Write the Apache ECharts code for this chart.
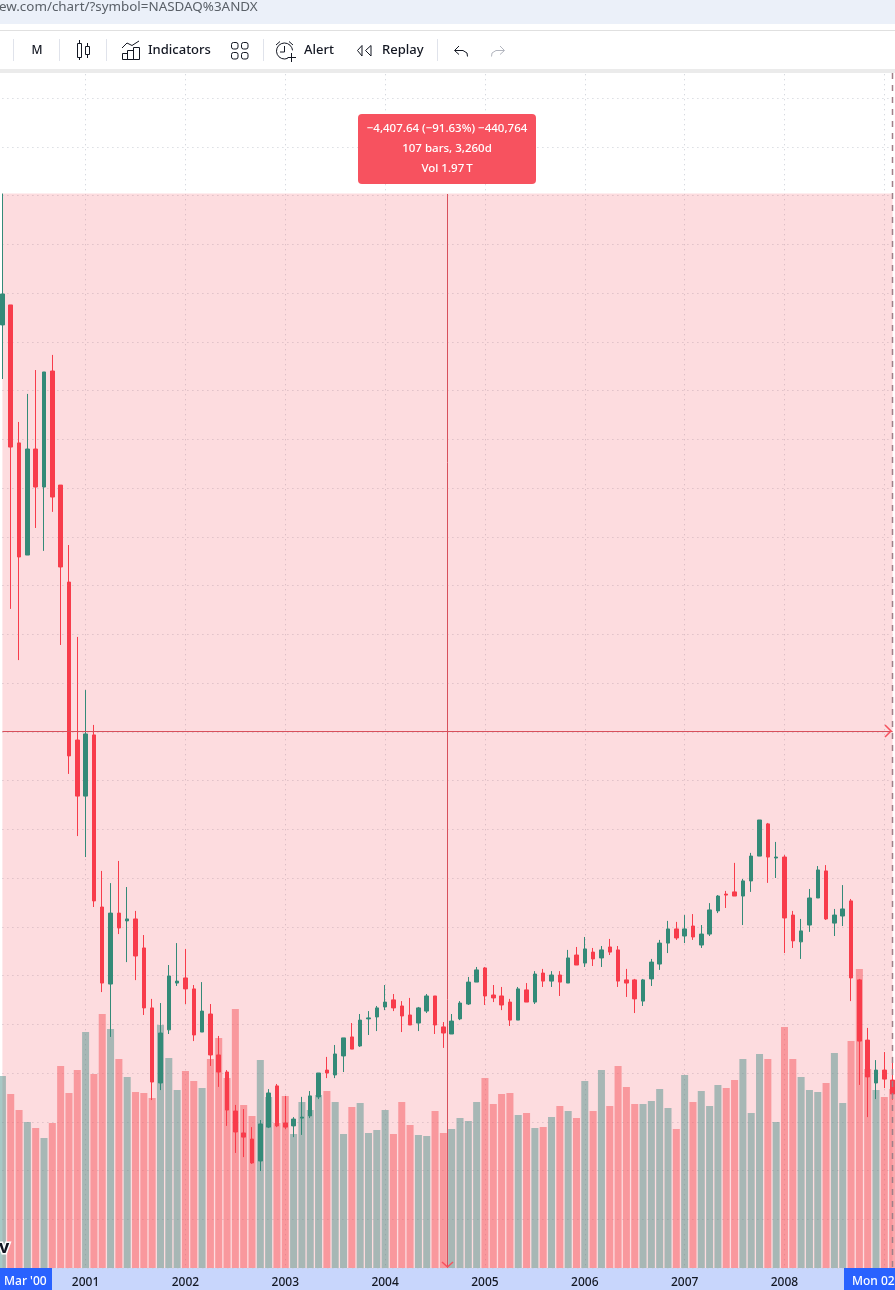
<!DOCTYPE html>
<html><head><meta charset="utf-8"><style>html,body{margin:0;padding:0;background:#fff}#c{width:895px;height:1290px}</style>
<script src="https://cdn.jsdelivr.net/npm/echarts@6/dist/echarts.min.js"></script></head><body><div id="c"></div>
<script>
// NDX monthly, Mar 2000 onward (prices; volume in billions)
var opens=[4269,4351,3785,3325,3760,3604,4080,3612,3214,2566,
2336,2587,1881,1565,1856,1824,1832,1713,1467,1159,
1377,1569,1590,1545,1368,1442,1274,1204,1044,954,
929,839,978,1147,995,983,1015,1024,1102,1212,
1192,1270,1348,1311,1422,1430,1471,1500,1475,1438,
1405,1454,1516,1389,1360,1422,1483,1573,1631,1520,
1516,1491,1417,1541,1491,1610,1577,1602,1569,1684,
1651,1696,1672,1717,1705,1582,1582,1495,1586,1647,
1733,1791,1762,1803,1725,1770,1865,1934,1943,1926,
1988,2090,2222,2082,2086,1848,1738,1807,1918,2029,
1815,1844,1906,1582,1335,1159,1212,1171];
var closes=[4396,3768,3317,3760,3604,4076,3563,3276,2501,2336,
2591,1906,1569,1856,1795,1832,1680,1467,1163,1364,
1598,1577,1545,1356,1454,1274,1204,1048,958,937,
831,991,1118,983,978,1011,1019,1106,1200,1200,
1278,1344,1298,1417,1426,1467,1491,1467,1434,1397,
1467,1516,1397,1364,1413,1487,1573,1623,1516,1508,
1479,1417,1545,1491,1606,1577,1602,1573,1672,1643,
1709,1668,1705,1696,1577,1569,1504,1582,1655,1733,
1791,1754,1791,1758,1770,1869,1926,1930,1926,1988,
2090,2238,2086,2086,1836,1742,1783,1918,2033,1832,
1848,1873,1590,1331,1184,1212,1175,1114];
var lows=[4047,3104,2894,3325,3436,3342,3502,2956,2427,2172,
2086,1881,1532,1348,1770,1655,1581,1438,1089,1130,
1360,1557,1483,1331,1368,1229,1143,983,872,855,
827,798,974,978,970,937,946,1015,1093,1179,
1179,1204,1298,1307,1356,1372,1458,1454,1368,1397,
1372,1446,1360,1303,1360,1417,1479,1573,1479,1491,
1458,1393,1417,1491,1483,1553,1553,1516,1569,1643,
1635,1639,1635,1684,1553,1512,1446,1475,1557,1623,
1692,1746,1733,1746,1713,1762,1856,1877,1926,1807,
1943,2090,1980,2000,1692,1713,1668,1779,1918,1828,
1762,1803,1495,1151,1019,1093,1138,1090];
var highs=[4808,4351,3871,3986,4084,4076,4146,3612,3366,2989,
2771,2628,2029,1979,2070,1963,1865,1766,1504,1487,
1643,1733,1709,1561,1573,1483,1352,1212,1069,1052,
978,1007,1134,1155,1106,1019,1102,1126,1200,1266,
1315,1344,1405,1442,1454,1475,1561,1524,1495,1508,
1471,1524,1516,1409,1442,1495,1594,1635,1635,1561,
1553,1504,1553,1569,1618,1627,1618,1618,1705,1717,
1758,1713,1721,1750,1721,1627,1586,1586,1668,1746,
1824,1820,1848,1852,1807,1897,1930,1947,2062,1996,
2103,2238,2226,2148,2094,1865,1832,1955,2049,2053,
1873,1971,1914,1586,1385,1253,1286,1266];
var volumes=[19.2,17.4,15.8,14.6,14.0,13.0,14.5,20.2,17.5,19.8,
23.6,19.4,25.4,23.9,20.9,19.1,17.6,17.5,17.0,24.3,
21.0,17.8,19.7,18.7,18.0,20.9,23.0,19.0,25.9,16.3,
15.2,20.8,17.1,14.5,17.2,13.4,16.6,15.8,17.3,17.7,
16.6,13.4,16.1,16.5,13.5,13.8,15.8,13.4,16.6,14.3,
13.3,13.2,15.7,13.5,13.9,15.0,14.7,16.6,19.0,16.4,
17.4,17.5,15.3,15.5,14.0,14.1,15.1,16.2,15.7,15.0,
18.7,15.7,19.8,16.2,20.2,18.1,16.4,16.4,16.7,17.9,
16.0,13.9,19.3,16.6,17.7,16.2,18.3,18.0,18.8,20.9,
15.5,21.4,20.9,14.6,24.1,20.9,19.1,17.8,17.6,18.5,
21.5,16.5,22.7,29.9,19.9,17.8,17.1,17.9];
var yearLabels=['2001','2002','2003','2004','2005','2006','2007','2008','2009'];
var rangeTop=4808, rangeBottom=400, rangeMid=2604;
var tipLines=['\u22124,407.64 (\u221291.63%) \u2212440,764','107 bars, 3,260d','Vol 1.97\u202fT'];
var categories=[];
for(var k=0;k<opens.length;k++){categories.push(k%12===10?yearLabels[(k-10)/12]:'m'+k);}

var UP='#348a78',DOWN='#f83c4b',VUP='rgba(82,146,139,0.5)',VDOWN='rgba(246,84,91,0.5)';
var FONT='"Noto Sans",sans-serif',INK='#131722',GRAY='#b2b5be';
var candles=opens.map(function(o,i){return [o,closes[i],lows[i],highs[i]];});
var volData=volumes.map(function(v,i){return {value:v,itemStyle:{color:closes[i]>=opens[i]?VUP:VDOWN}};});

function sLine(points,color,w,closed){return {type:closed?'polygon':'polyline',z:101,shape:{points:points},style:{fill:null,stroke:color||INK,lineWidth:w||1}};}
function rect(x,y,w,h,fill,z,r){return {type:'rect',z:z||100,shape:{x:x,y:y,width:w,height:h,r:r||0},style:{fill:fill}};}
function box(x,y,w,h,r,stroke){return {type:'rect',z:101,shape:{x:x+.5,y:y+.5,width:w,height:h,r:r||0},style:{fill:null,stroke:stroke||INK,lineWidth:1}};}
function txt(s,x,y,size,color,weight,align){return {type:'text',z:104,x:x,y:y,style:{text:s,fontFamily:FONT,fontSize:size,fontWeight:weight||'normal',fill:color||INK,align:align||'left',verticalAlign:'middle'}};}

var g=[
 rect(0,0,895,24,'#ebf0f9'),rect(0,24,895,45,'#ffffff'),rect(0,30,895,1,'#e0e0e0'),rect(0,69,895,4,'#ebebeb'),
 txt('ew.com/chart/?symbol=NASDAQ%3ANDX',-1,7,13.4,'#5a6068'),
 rect(13,39,1,22,'#e0e3eb',101),rect(59,39,1,22,'#e0e3eb',101),rect(106,39,1,22,'#e0e3eb',101),rect(263,39,1,22,'#e0e3eb',101),rect(437,39,1,22,'#e0e3eb',101),
 txt('M',37,50.5,12,INK,'500','center'),
 box(77,43,4,14),sLine([[79.5,40],[79.5,43]]),sLine([[79.5,57],[79.5,60]]),
 box(85,46,4,8),sLine([[87.5,43],[87.5,46]]),sLine([[87.5,54],[87.5,58]]),
 sLine([[122,48],[127,43],[132,45.5],[139,41]]),
 box(122,53,5,6),box(127,50,6,9),box(133,47,6,12),
 txt('Indicators',148,50,13,INK,'500'),
 box(231,42,6.5,6.5,2),box(241,42,6.5,6.5,2),box(231,52,6.5,6.5,2),box(241,52,6.5,6.5,2),
 {type:'arc',z:101,shape:{cx:284.5,cy:51,r:8,startAngle:1.15,endAngle:6.2,clockwise:true},style:{fill:null,stroke:INK,lineWidth:1}},
 sLine([[276,45],[280,41.5]]),sLine([[289,41.5],[293,45]]),sLine([[284.5,46],[284.5,52],[280,52]]),
 sLine([[287.5,57.5],[296,57.5]]),sLine([[291.5,53],[291.5,62]]),
 txt('Alert',304,50,13,INK,'500'),
 sLine([[362,45.5],[357.5,50.5],[362,56]],INK,1,true),sLine([[371,45.5],[365.5,50.5],[371,56]],INK,1,true),
 txt('Replay',382,50,13,INK,'500'),
 sLine([[459,46],[454.5,50.5],[459,54.5]]),sLine([[455,50.5],[463,50.5],[467,53],[467.5,56.5]]),
 sLine([[500,46],[504.5,50.5],[500,54.5]],GRAY),sLine([[504,50.5],[496,50.5],[492,53],[491.5,56.5]],GRAY),
 rect(358,114,178,70,'#f7525f',103,4),
 txt(tipLines[0],447,128.5,11.5,'#ffffff','500','center'),
 txt(tipLines[1],447,148.5,11.5,'#ffffff','500','center'),
 txt(tipLines[2],447,168.5,11.5,'#ffffff','500','center'),
 {type:'line',z:60,shape:{x1:447.5,y1:194,x2:447.5,y2:1268},style:{stroke:'#d8505c',lineWidth:1}},
 sLine([[885,725],[891,731],[885,737]],'#f7525f',1.5),
 sLine([[442,1262],[447.5,1267],[453,1262]],'#f7525f',1.5),
 {type:'line',z:60,shape:{x1:892.5,y1:73,x2:892.5,y2:1268},style:{stroke:'#a07f88',lineWidth:1.5,lineDash:[6,6]}},
 {type:'text',z:70,x:-1,y:1248,style:{text:'v',fontFamily:FONT,fontSize:18,fontWeight:'bold',fill:'#131722',stroke:'#fff',lineWidth:3,verticalAlign:'middle'}},
 rect(0,1268,895,22,'#c8d6fc',-1),
 rect(0,1268,52,22,'#2962ff',5),
 txt("Mar '00",4,1282,12,'#ffffff','500'),
 rect(844,1268,51,22,'#2962ff',5),
 txt('Mon 02 F',852,1282,12,'#ffffff','500')
];
var chart=echarts.init(document.getElementById('c'),null,{renderer:'canvas'});
chart.setOption({
 animation:false,backgroundColor:'#fff',
 grid:{left:2.4,width:890.24,top:49.25,height:1218.75,containLabel:false,outerBoundsMode:'none'},
 tooltip:{show:false},legend:{show:false},
 xAxis:{type:'category',data:categories,boundaryGap:false,min:0,max:categories.length-1,containShape:false,
  axisLine:{show:false},axisTick:{show:false},
  axisLabel:{show:true,interval:function(i){return i%12===10;},margin:9,color:INK,fontFamily:FONT,fontSize:12,fontWeight:500,hideOverlap:false,
   formatter:function(v){return v;}},
  splitLine:{show:true,interval:function(i){return i%12===10;},lineStyle:{color:'#c8ccd4',type:[1,4],width:1}}},
 yAxis:[{type:'value',min:400,max:5400,interval:200,axisLine:{show:false},axisTick:{show:false},axisLabel:{show:false},
   splitLine:{show:true,lineStyle:{color:'#c8ccd4',type:[1,4],width:1}}},
  {type:'value',min:0,max:121.875,show:false,splitLine:{show:false}}],
 series:[
  {name:'Volume',type:'bar',yAxisIndex:1,data:volData,barWidth:7,clip:false,z:2,silent:true},
  {name:'NDX',type:'candlestick',data:candles,barWidth:4,clip:false,z:3,silent:true,
   itemStyle:{color:UP,color0:DOWN,borderColor:UP,borderColor0:DOWN,borderWidth:1},
   markArea:{silent:true,z:1,itemStyle:{color:'rgba(247,82,95,0.2)'},label:{show:false},
    data:[[{xAxis:0,yAxis:rangeTop},{xAxis:categories.length-1,yAxis:rangeBottom}]]},
   markLine:{silent:true,symbol:['none','none'],z:4,label:{show:false},lineStyle:{color:'#d8505c',width:1,type:'solid'},
    data:[[{xAxis:0,yAxis:rangeMid},{xAxis:categories.length-1,yAxis:rangeMid}]]}}
 ],
 graphic:{elements:g}
});
</script></body></html>
